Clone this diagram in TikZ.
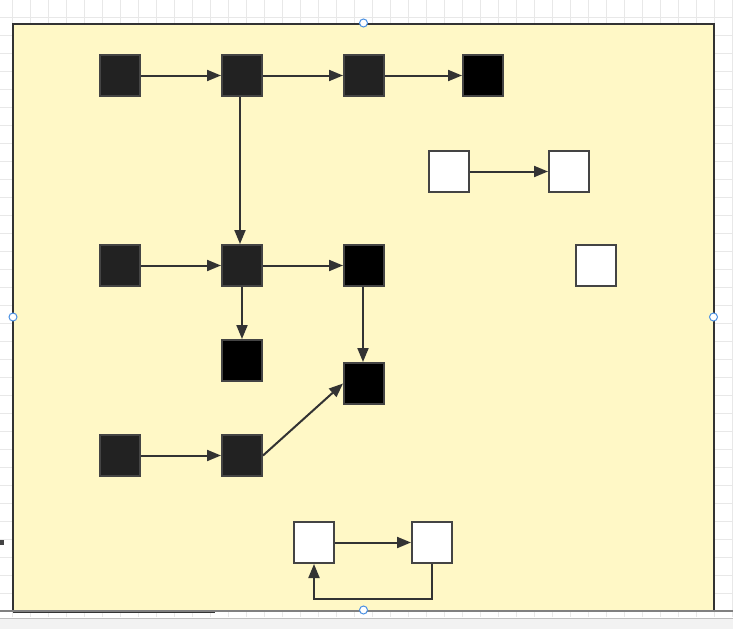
\documentclass[tikz,border=0pt]{standalone}
\usetikzlibrary{arrows.meta}
\definecolor{paper}{HTML}{FFF8C6}
\definecolor{edge}{HTML}{333333}
\definecolor{boxline}{HTML}{444444}
\definecolor{darkbox}{HTML}{222222}
\definecolor{handle}{HTML}{4A90E2}
\tikzstyle{arrow} = [line width=2pt, draw=edge, -{Triangle[length=14pt, width=11pt]}]
\tikzstyle{box} = [rectangle, draw=boxline, line width=2pt, minimum width=40pt, minimum height=41pt, inner sep=0pt]
\tikzstyle{dark} = [box, fill=darkbox]
\tikzstyle{black} = [box, fill=black]
\tikzstyle{empty} = [box, fill=white]
\tikzstyle{gridline} = [draw=gray!18, line width=1pt]
\tikzstyle{grip} = [circle, draw=handle, fill=white, line width=1pt, minimum size=8pt, inner sep=0pt]

\begin{document}
\begin{tikzpicture}[x=1pt, y=-1pt]
    \useasboundingbox (0,0) rectangle (733,629);
    % Canvas
    \fill[white] (0,0) rectangle (733,629);
    \foreach \gx in {12.7,30.7,...,733} \draw[gridline] (\gx,0) -- (\gx,617);
    \foreach \gy in {17,35,...,612} \draw[gridline] (0,\gy) -- (733,\gy);
    \fill[gray!10] (0,618) rectangle (733,629);
    \draw[gray!50, line width=1pt] (0,618) -- (733,618);
    \fill[boxline] (0,540) rectangle (4,545);

    % Frame
    \draw[fill=paper, draw=edge, line width=2pt] (13,24) rectangle (714,611);
    \draw[gray, line width=1.5pt] (0,611) -- (733,611);
    \draw[edge, line width=1pt] (13,612.5) -- (215,612.5);

    % Nodes
    \node[dark]  (top1) at (120, 75.5) {};
    \node[dark]  (top2) at (242, 75.5) {};
    \node[dark]  (top3) at (364, 75.5) {};
    \node[black] (top4) at (483, 75.5) {};

    \node[empty] (pair1) at (449, 171.5) {};
    \node[empty] (pair2) at (569, 171.5) {};
    \node[empty] (lone)  at (596, 265.5) {};

    \node[dark]  (mid1) at (120, 265.5) {};
    \node[dark]  (mid2) at (242, 265.5) {};
    \node[black] (mid3) at (364, 265.5) {};
    \node[black] (sink) at (242, 360.5) {};
    \node[black] (join) at (364, 383.5) {};

    \node[dark]  (low1) at (120, 455.5) {};
    \node[dark]  (low2) at (242, 455.5) {};

    \node[empty] (loop1) at (314, 542.5) {};
    \node[empty] (loop2) at (432, 542.5) {};

    % Arrows
    \draw[arrow] (top1) -- (top2);
    \draw[arrow] (top2) -- (top3);
    \draw[arrow] (top3) -- (top4);
    \draw[arrow] ([xshift=-2pt]top2.south) -- ([xshift=-2pt]mid2.north);
    \draw[arrow] (pair1) -- (pair2);
    \draw[arrow] (mid1) -- (mid2);
    \draw[arrow] (mid2) -- (mid3);
    \draw[arrow] (mid2) -- (sink);
    \draw[arrow] ([xshift=-1pt]mid3.south) -- ([xshift=-1pt]join.north);
    \draw[arrow] (low1) -- (low2);
    \draw[arrow] (low2.east) -- (join.west);
    \draw[arrow] (loop1) -- (loop2);
    \draw[arrow] (loop2.south) -- ++(0,35) -| (loop1.south);

    % Selection handles
    \node[grip] at (363.5,23) {};
    \node[grip] at (13,317) {};
    \node[grip] at (713.5,317) {};
    \node[grip] at (363.5,610) {};
\end{tikzpicture}
\end{document}
